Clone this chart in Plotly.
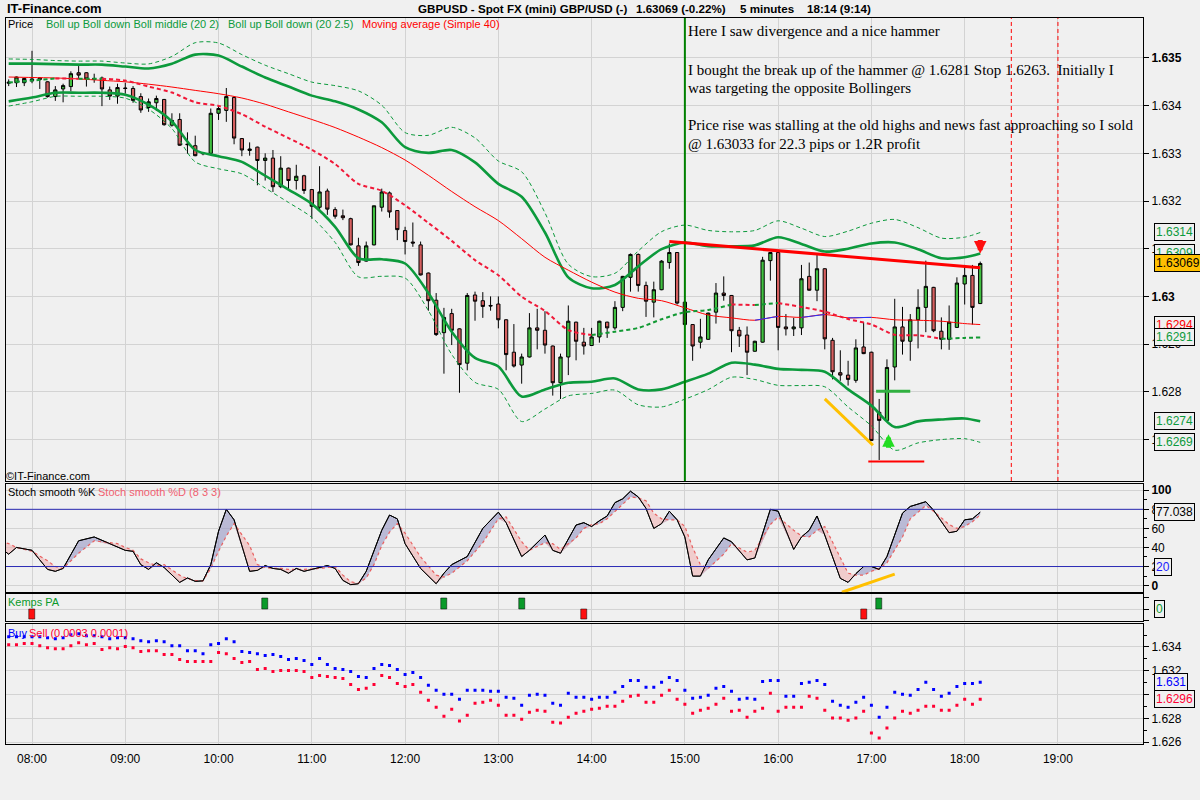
import pandas as pd
import plotly.graph_objects as go

W, H = 1200, 800
DAY = "2010-06-07"

# 5 minute GBPUSD bars, 07:45 .. 18:10
bar_open = [1.63447, 1.63448, 1.63448, 1.63452, 1.63458, 1.63450, 1.63419, 1.63435, 1.63440, 1.63469,
            1.63469, 1.63457, 1.63458, 1.63433, 1.63420, 1.63437, 1.63436, 1.63419, 1.63396, 1.63406,
            1.63413, 1.63359, 1.63371, 1.63318, 1.63316, 1.63299, 1.63300, 1.63384, 1.63390, 1.63417,
            1.63331, 1.63306, 1.63313, 1.63285, 1.63290, 1.63230, 1.63269, 1.63243, 1.63253, 1.63224,
            1.63187, 1.63221, 1.63182, 1.63169, 1.63163, 1.63106, 1.63074, 1.63108, 1.63187, 1.63217,
            1.63180, 1.63138, 1.63114, 1.63108, 1.63049, 1.62992, 1.62924, 1.62964, 1.62932, 1.62860,
            1.63003, 1.62991, 1.62981, 1.62984, 1.62951, 1.62883, 1.62856, 1.62873, 1.62934, 1.62929,
            1.62896, 1.62819, 1.62873, 1.62946, 1.62904, 1.62897, 1.62915, 1.62946, 1.62934, 1.62977,
            1.63040, 1.63088, 1.63023, 1.62988, 1.63014, 1.63071, 1.63092, 1.62988, 1.62941, 1.62904,
            1.62910, 1.62967, 1.63007, 1.63002, 1.62929, 1.62919, 1.62885, 1.62904, 1.63075, 1.63092,
            1.62936, 1.62932, 1.62934, 1.63042, 1.63013, 1.63058, 1.62908, 1.62840, 1.62835, 1.62824,
            1.62894, 1.62883, 1.62757, 1.62740, 1.62852, 1.62936, 1.62906, 1.62951, 1.62977, 1.63019,
            1.62927, 1.62910, 1.62935, 1.63026, 1.63044, 1.62985]
bar_high = [1.63455, 1.63461, 1.63458, 1.63515, 1.63460, 1.63451, 1.63441, 1.63446, 1.63472, 1.63483,
            1.63470, 1.63467, 1.63461, 1.63440, 1.63446, 1.63448, 1.63441, 1.63426, 1.63415, 1.63421,
            1.63414, 1.63384, 1.63384, 1.63344, 1.63337, 1.63302, 1.63394, 1.63401, 1.63437, 1.63420,
            1.63332, 1.63323, 1.63314, 1.63300, 1.63307, 1.63294, 1.63270, 1.63276, 1.63255, 1.63225,
            1.63273, 1.63226, 1.63187, 1.63182, 1.63165, 1.63123, 1.63115, 1.63190, 1.63226, 1.63220,
            1.63181, 1.63146, 1.63155, 1.63115, 1.63050, 1.63007, 1.62976, 1.62974, 1.62933, 1.63007,
            1.63010, 1.63009, 1.63000, 1.63000, 1.62952, 1.62942, 1.62880, 1.62965, 1.62974, 1.62969,
            1.62897, 1.62880, 1.62981, 1.62947, 1.62934, 1.62934, 1.62949, 1.62947, 1.62990, 1.63043,
            1.63090, 1.63090, 1.63031, 1.63031, 1.63076, 1.63111, 1.63093, 1.62990, 1.62942, 1.62953,
            1.62966, 1.63028, 1.63042, 1.63003, 1.62936, 1.62937, 1.62907, 1.63083, 1.63093, 1.63093,
            1.62963, 1.62955, 1.63066, 1.63071, 1.63088, 1.63059, 1.62913, 1.62887, 1.62865, 1.62910,
            1.62946, 1.62884, 1.62785, 1.62868, 1.62995, 1.62978, 1.62963, 1.63015, 1.63075, 1.63020,
            1.62956, 1.62981, 1.63040, 1.63066, 1.63066, 1.63073]
bar_low = [1.63441, 1.63439, 1.63441, 1.63447, 1.63435, 1.63417, 1.63410, 1.63407, 1.63430, 1.63456,
           1.63440, 1.63448, 1.63399, 1.63412, 1.63404, 1.63425, 1.63406, 1.63385, 1.63387, 1.63389,
           1.63358, 1.63356, 1.63316, 1.63299, 1.63294, 1.63296, 1.63299, 1.63370, 1.63366, 1.63319,
           1.63294, 1.63295, 1.63233, 1.63243, 1.63219, 1.63227, 1.63222, 1.63224, 1.63215, 1.63163,
           1.63180, 1.63171, 1.63163, 1.63160, 1.63107, 1.63064, 1.63073, 1.63107, 1.63178, 1.63165,
           1.63118, 1.63088, 1.63104, 1.63044, 1.62970, 1.62917, 1.62838, 1.62898, 1.62798, 1.62845,
           1.62949, 1.62955, 1.62970, 1.62933, 1.62845, 1.62851, 1.62817, 1.62872, 1.62889, 1.62880,
           1.62792, 1.62785, 1.62835, 1.62866, 1.62878, 1.62896, 1.62903, 1.62913, 1.62930, 1.62969,
           1.63010, 1.63010, 1.62957, 1.62956, 1.63013, 1.63058, 1.62983, 1.62939, 1.62865, 1.62891,
           1.62909, 1.62943, 1.62991, 1.62883, 1.62894, 1.62835, 1.62884, 1.62903, 1.63033, 1.62887,
           1.62918, 1.62917, 1.62919, 1.63012, 1.62990, 1.62889, 1.62826, 1.62823, 1.62813, 1.62819,
           1.62879, 1.62697, 1.62657, 1.62739, 1.62824, 1.62878, 1.62865, 1.62891, 1.62925, 1.62925,
           1.62889, 1.62888, 1.62934, 1.62983, 1.62941, 1.62984]
bar_close = [1.63449, 1.63460, 1.63457, 1.63456, 1.63455, 1.63419, 1.63433, 1.63442, 1.63467, 1.63464,
             1.63456, 1.63455, 1.63435, 1.63420, 1.63438, 1.63436, 1.63411, 1.63391, 1.63408, 1.63415,
             1.63360, 1.63369, 1.63317, 1.63319, 1.63295, 1.63300, 1.63384, 1.63394, 1.63419, 1.63332,
             1.63307, 1.63309, 1.63285, 1.63290, 1.63230, 1.63269, 1.63243, 1.63252, 1.63222, 1.63189,
             1.63219, 1.63183, 1.63168, 1.63165, 1.63108, 1.63071, 1.63106, 1.63190, 1.63219, 1.63177,
             1.63140, 1.63115, 1.63112, 1.63045, 1.62991, 1.62920, 1.62956, 1.62929, 1.62857, 1.63002,
             1.62990, 1.62979, 1.62980, 1.62951, 1.62878, 1.62854, 1.62873, 1.62934, 1.62929, 1.62898,
             1.62819, 1.62873, 1.62948, 1.62906, 1.62896, 1.62915, 1.62948, 1.62934, 1.62977, 1.63042,
             1.63088, 1.63023, 1.62990, 1.63014, 1.63074, 1.63092, 1.62986, 1.62941, 1.62896, 1.62915,
             1.62965, 1.63007, 1.63002, 1.62928, 1.62917, 1.62883, 1.62906, 1.63076, 1.63092, 1.62935,
             1.62932, 1.62936, 1.63037, 1.63013, 1.63058, 1.62911, 1.62842, 1.62835, 1.62826, 1.62892,
             1.62880, 1.62698, 1.62740, 1.62851, 1.62936, 1.62906, 1.62951, 1.62977, 1.63021, 1.62928,
             1.62910, 1.62946, 1.63028, 1.63044, 1.62977, 1.63069]
bar_times = pd.date_range(DAY + " 07:45", periods=len(bar_open), freq="5min")

# Bollinger (20 2) bands and SMA 40, read every 15 minutes plus the last bar
boll_upper = [1.63488, 1.63488, 1.63487, 1.63486, 1.63486, 1.63482, 1.63478, 1.63488, 1.63507, 1.63505,
              1.63482, 1.63459, 1.63440, 1.63421, 1.63409, 1.63392, 1.63365, 1.63313, 1.63301, 1.63307,
              1.63281, 1.63236, 1.63209, 1.63134, 1.63040, 1.63017, 1.63024, 1.63063, 1.63099, 1.63113,
              1.63105, 1.63105, 1.63107, 1.63124, 1.63110, 1.63094, 1.63100, 1.63111, 1.63113, 1.63099,
              1.63080, 1.63082, 1.63090]
boll_lower = [1.63409, 1.63417, 1.63427, 1.63427, 1.63427, 1.63423, 1.63402, 1.63367, 1.63307, 1.63294,
              1.63282, 1.63253, 1.63224, 1.63194, 1.63146, 1.63080, 1.63078, 1.63069, 1.63007, 1.62926,
              1.62871, 1.62853, 1.62790, 1.62805, 1.62819, 1.62821, 1.62828, 1.62805, 1.62805, 1.62821,
              1.62838, 1.62861, 1.62857, 1.62848, 1.62846, 1.62842, 1.62805, 1.62771, 1.62726, 1.62738,
              1.62742, 1.62744, 1.62738]
sma40 = [1.63460, 1.63459, 1.63458, 1.63456, 1.63453, 1.63450, 1.63445, 1.63439, 1.63432, 1.63425,
         1.63416, 1.63403, 1.63387, 1.63371, 1.63354, 1.63334, 1.63312, 1.63286, 1.63254, 1.63220,
         1.63188, 1.63159, 1.63121, 1.63082, 1.63055, 1.63030, 1.63009, 1.62996, 1.62991, 1.62976,
         1.62961, 1.62955, 1.62950, 1.62958, 1.62956, 1.62962, 1.62955, 1.62956, 1.62951, 1.62950,
         1.62948, 1.62943, 1.62941]
ind_times = list(bar_times[::3]) + [bar_times[-1]]

# Stoch smooth %K / %D (8 3 3), bar index from 07:45
stoch_bar = [-1, 0, 1, 3, 5, 6, 7, 9, 11, 14, 15, 16, 17, 18, 19, 20, 22, 23, 24, 25,
             26, 27, 28, 29, 31, 32, 33, 34, 35, 36, 37, 38, 40, 41, 42, 43, 44, 45, 46, 47,
             48, 49, 50, 51, 53, 55, 56, 57, 59, 61, 63, 64, 66, 67, 69, 70, 71, 73, 74, 75,
             76, 77, 78, 79, 80, 81, 82, 83, 84, 85, 86, 87, 88, 89, 90, 92, 93, 95, 96, 98,
             99, 101, 102, 103, 104, 105, 107, 108, 109, 110, 111, 112, 113, 115, 116, 118, 119, 121, 122, 123,
             124, 125]
stoch_k = [39, 33, 40, 37, 17, 15, 18, 47, 51, 41, 37, 36, 22, 17, 24, 19, 3.4, 8, 4.5, 5,
           22, 57, 80, 69, 15, 16, 21, 18, 17, 13, 18, 15, 19, 21, 18, 5.5, 1, 2, 15, 36,
           58, 74, 70, 44, 18, 2, 13, 22, 30.5, 60, 77, 66, 30.5, 37, 53, 37, 34, 63.5, 66, 62,
           68, 73, 87, 91, 99, 93, 81, 60, 65, 78, 69, 51, 10, 10, 27, 50, 46, 27, 29, 80,
           78, 38, 51, 58, 73, 53, 7.6, 3.4, 12.5, 20, 20, 17, 30.5, 76, 83, 88, 79, 55.5, 57, 69,
           70, 77]
stoch_d = [46, 44, 40, 36, 26, 20, 18, 34, 47, 44, 40, 37, 28, 24, 21, 22, 11, 7, 5.5, 5,
           18, 36, 52, 65, 42, 22, 19, 18, 18, 17, 17, 17, 18, 19, 20, 11, 4, 2.5, 8, 22,
           42, 56, 65, 55, 30, 11, 9, 13, 26, 45, 70, 72, 46, 37, 45, 44, 38, 50, 60, 64,
           65, 70, 78, 86, 93, 92, 89, 76, 70, 69, 69, 62, 40, 22, 18, 33, 44, 35, 37, 64,
           72, 58, 52, 51, 58, 62, 30, 13, 11, 11, 15, 18, 24, 51, 70, 84, 78, 64, 60, 62,
           67, 74]

# Kemps PA signals
kemps_up = ["10:30", "12:25", "13:15", "17:05"]
kemps_down = ["08:00", "13:55", "16:55"]

# Buy Sell (0.0003 0.0001), one value per bar
buy_level = [1.63486, 1.63486, 1.63486, 1.63486, 1.63486, 1.63478, 1.63469, 1.63478, 1.63503, 1.63511,
             1.63494, 1.63494, 1.63486, 1.63469, 1.63478, 1.63478, 1.63469, 1.63453, 1.63444, 1.63453,
             1.63444, 1.63411, 1.63411, 1.63369, 1.63369, 1.63344, 1.63419, 1.63428, 1.63469, 1.63444,
             1.63361, 1.63353, 1.63344, 1.63328, 1.63336, 1.63319, 1.63294, 1.63303, 1.63286, 1.63253,
             1.63303, 1.63253, 1.63219, 1.63211, 1.63194, 1.63153, 1.63144, 1.63219, 1.63253, 1.63244,
             1.63211, 1.63169, 1.63186, 1.63144, 1.63078, 1.63036, 1.63003, 1.63003, 1.62961, 1.63036,
             1.63036, 1.63036, 1.63028, 1.63028, 1.62978, 1.62969, 1.62911, 1.62994, 1.63003, 1.62994,
             1.62928, 1.62911, 1.63011, 1.62978, 1.62978, 1.62961, 1.62978, 1.62978, 1.63019, 1.63069,
             1.63119, 1.63119, 1.63061, 1.63061, 1.63103, 1.63144, 1.63119, 1.63036, 1.62969, 1.62978,
             1.62994, 1.63053, 1.63069, 1.63028, 1.62961, 1.62969, 1.62961, 1.63111, 1.63119, 1.63119,
             1.62986, 1.62986, 1.63094, 1.63103, 1.63119, 1.63086, 1.62944, 1.62911, 1.62894, 1.62936,
             1.62978, 1.62911, 1.62811, 1.62894, 1.63019, 1.63003, 1.62994, 1.63044, 1.63103, 1.63044,
             1.62986, 1.63011, 1.63069, 1.63094, 1.63094, 1.63103]
sell_level = [1.63419, 1.63419, 1.63428, 1.63428, 1.63411, 1.63394, 1.63386, 1.63386, 1.63411, 1.63436,
              1.63419, 1.63428, 1.63378, 1.63394, 1.63386, 1.63403, 1.63394, 1.63361, 1.63369, 1.63369,
              1.63336, 1.63336, 1.63294, 1.63278, 1.63278, 1.63278, 1.63278, 1.63353, 1.63344, 1.63303,
              1.63269, 1.63278, 1.63211, 1.63219, 1.63194, 1.63203, 1.63203, 1.63203, 1.63194, 1.63144,
              1.63161, 1.63153, 1.63144, 1.63136, 1.63086, 1.63044, 1.63053, 1.63086, 1.63161, 1.63144,
              1.63094, 1.63069, 1.63086, 1.63019, 1.62953, 1.62894, 1.62819, 1.62878, 1.62778, 1.62828,
              1.62928, 1.62936, 1.62953, 1.62911, 1.62828, 1.62828, 1.62794, 1.62853, 1.62869, 1.62861,
              1.62769, 1.62761, 1.62811, 1.62844, 1.62861, 1.62878, 1.62886, 1.62903, 1.62903, 1.62944,
              1.62986, 1.62994, 1.62936, 1.62936, 1.62994, 1.63036, 1.62961, 1.62919, 1.62844, 1.62869,
              1.62886, 1.62919, 1.62969, 1.62861, 1.62869, 1.62811, 1.62861, 1.62886, 1.63011, 1.62861,
              1.62894, 1.62894, 1.62894, 1.62986, 1.62969, 1.62869, 1.62803, 1.62803, 1.62786, 1.62803,
              1.62861, 1.62678, 1.62636, 1.62719, 1.62803, 1.62861, 1.62844, 1.62869, 1.62903, 1.62903,
              1.62869, 1.62869, 1.62911, 1.62961, 1.62919, 1.62961]

price_ticks = [1.627, 1.628, 1.629, 1.63, 1.631, 1.632, 1.633, 1.634, 1.635]
price_tick_text = ["1.627", "1.628", "1.629", "<b>1.63</b>", "1.631", "1.632", "1.633", "1.634", "<b>1.635</b>"]

notes = ["Here I saw divergence and a nice hammer",
         "I bought the break up of the hammer @ 1.6281 Stop 1.6263.\u00a0 Initially I",
         "was targeting the opposite Bollingers",
         "Price rise was stalling at the old highs and news fast approaching so I sold",
         "@ 1.63033 for 22.3 pips or 1.2R profit"]
note_rows = [31, 70, 89, 126, 145]

BG = "#f0f0f0"
GRID = "#d3d3d3"
BOLL = "#0c9a3c"
UP = "#40c040"
DOWN = "#d66060"
SANS = "Liberation Sans, Arial, sans-serif"
SERIF = "Liberation Serif, Times New Roman, serif"


def px(x):
    return x / W


def py(y):
    return 1 - y / H


def t(hm):
    return pd.Timestamp(f"{DAY} {hm}")


def runs(xs, ys, rise, fall):
    # split a line into pieces coloured by direction
    out = []
    colour = lambda i: rise if ys[i + 1] >= ys[i] else fall
    start, cur = 0, colour(0)
    for i in range(1, len(ys) - 1):
        c = colour(i)
        if c != cur:
            out.append((xs[start:i + 1], ys[start:i + 1], cur))
            start, cur = i, c
    out.append((xs[start:], ys[start:], cur))
    return out


fig = go.Figure()

# ---- price panel
fig.add_trace(go.Candlestick(
    x=bar_times, open=bar_open, high=bar_high, low=bar_low, close=bar_close,
    increasing=dict(fillcolor=UP, line=dict(color="black", width=1)),
    decreasing=dict(fillcolor=DOWN, line=dict(color="black", width=1)),
    whiskerwidth=0, hoverinfo="skip", showlegend=False, xaxis="x", yaxis="y"))

mid = [(u + l) / 2 for u, l in zip(boll_upper, boll_lower)]
up25 = [m + 1.25 * (u - m) for m, u in zip(mid, boll_upper)]
lo25 = [m - 1.25 * (u - m) for m, u in zip(mid, boll_upper)]

for ys in (up25, lo25):
    fig.add_trace(go.Scatter(x=ind_times, y=ys, mode="lines", showlegend=False, hoverinfo="skip",
                             line=dict(color=BOLL, width=1, dash="4px,3px", shape="spline", smoothing=0.8)))
for ys in (boll_upper, boll_lower):
    fig.add_trace(go.Scatter(x=ind_times, y=ys, mode="lines", showlegend=False, hoverinfo="skip",
                             line=dict(color=BOLL, width=2.6, shape="spline", smoothing=0.8)))

fig.add_trace(go.Scatter(x=ind_times, y=sma40, mode="lines", showlegend=False, hoverinfo="skip",
                         line=dict(color="#ff0000", width=1, shape="spline", smoothing=0.8)))
for xs, ys, c in runs(ind_times, sma40, "#2233ff", None):
    if c:
        fig.add_trace(go.Scatter(x=xs, y=ys, mode="lines", showlegend=False, hoverinfo="skip",
                                 line=dict(color=c, width=1)))

for xs, ys, c in runs(ind_times, mid, "#119933", "#f01838"):
    fig.add_trace(go.Scatter(x=xs, y=ys, mode="lines", showlegend=False, hoverinfo="skip",
                             line=dict(color=c, width=2, dash="4px,3px", shape="spline", smoothing=0.8)))

# ---- stochastic panel
stoch_times = [t("07:45") + pd.Timedelta(minutes=5 * i) for i in stoch_bar]
stoch_lo = [min(k, d) for k, d in zip(stoch_k, stoch_d)]
fig.add_trace(go.Scatter(x=stoch_times, y=stoch_lo, mode="lines", line=dict(width=0),
                         showlegend=False, hoverinfo="skip", xaxis="x2", yaxis="y2"))
fig.add_trace(go.Scatter(x=stoch_times, y=stoch_k, mode="lines", fill="tonexty",
                         fillcolor="rgba(150,150,195,0.6)", line=dict(color="black", width=1),
                         showlegend=False, hoverinfo="skip", xaxis="x2", yaxis="y2"))
fig.add_trace(go.Scatter(x=stoch_times, y=stoch_lo, mode="lines", line=dict(width=0),
                         showlegend=False, hoverinfo="skip", xaxis="x2", yaxis="y2"))
fig.add_trace(go.Scatter(x=stoch_times, y=stoch_d, mode="lines", fill="tonexty",
                         fillcolor="rgba(240,175,175,0.55)", line=dict(color="#e86060", width=1.2, dash="dot"),
                         showlegend=False, hoverinfo="skip", xaxis="x2", yaxis="y2"))
fig.add_trace(go.Scatter(x=stoch_times, y=stoch_k, mode="lines", line=dict(color="black", width=1),
                         showlegend=False, hoverinfo="skip", xaxis="x2", yaxis="y2"))

# ---- Kemps PA panel
bar_w = 4 * 60 * 1000
fig.add_trace(go.Bar(x=[t(h) for h in kemps_up], y=[1] * len(kemps_up), width=bar_w,
                     marker=dict(color="#0a9a2a", line=dict(color="black", width=0.5)),
                     showlegend=False, hoverinfo="skip", xaxis="x3", yaxis="y3"))
fig.add_trace(go.Bar(x=[t(h) for h in kemps_down], y=[-0.8] * len(kemps_down), width=bar_w,
                     marker=dict(color="#ff1010", line=dict(color="black", width=0.5)),
                     showlegend=False, hoverinfo="skip", xaxis="x3", yaxis="y3"))

# ---- Buy / Sell panel
fig.add_trace(go.Scatter(x=bar_times, y=buy_level, mode="markers",
                         marker=dict(symbol="square", size=3, color="#0000ff"),
                         showlegend=False, hoverinfo="skip", xaxis="x4", yaxis="y4"))
fig.add_trace(go.Scatter(x=bar_times, y=sell_level, mode="markers",
                         marker=dict(symbol="square", size=3, color="#ff0033"),
                         showlegend=False, hoverinfo="skip", xaxis="x4", yaxis="y4"))

# ---- axes
x_range = [f"{DAY} 07:43:16", f"{DAY} 19:54:43"]
base_x = dict(type="date", range=x_range, domain=[px(6), px(1143)], showgrid=True, gridcolor=GRID,
              dtick=3600000, tick0=f"{DAY} 08:00", showline=True, linecolor="black", linewidth=1,
              mirror=True, zeroline=False, showticklabels=False, ticks="")
base_y = dict(side="right", showgrid=True, gridcolor=GRID, ticks="outside", ticklen=5, tickcolor="black",
              showline=True, linecolor="black", linewidth=1, mirror=True, zeroline=False,
              tickfont=dict(family=SANS, size=12, color="black"))

fig.update_layout(
    width=W, height=800, margin=dict(l=0, r=0, t=0, b=0),
    paper_bgcolor=BG, plot_bgcolor=BG, boxgap=0.4, bargap=0, showlegend=False,
    xaxis=dict(base_x, anchor="y", rangeslider=dict(visible=False)),
    xaxis2=dict(base_x, anchor="y2"),
    xaxis3=dict(base_x, anchor="y3"),
    xaxis4=dict(base_x, anchor="y4", showticklabels=True, tickformat="%H:%M",
                ticks="outside", ticklen=3, tickcolor=BG,
                tickfont=dict(family=SANS, size=12, color="black")),
    yaxis=dict(base_y, anchor="x", domain=[py(484), py(18)], range=[1.62613, 1.63584],
               tickvals=price_ticks, ticktext=price_tick_text),
    yaxis2=dict(base_y, anchor="x2", domain=[py(596), py(487)], range=[-7, 106.6],
                tickvals=[0, 20, 40, 60, 80, 100], ticktext=["<b>0</b>", "20", "40", "60", "80", "<b>100</b>"],
                minor=dict(dtick=10, ticks="outside", ticklen=3, tickcolor="black", showgrid=False)),
    yaxis3=dict(base_y, anchor="x3", domain=[py(625), py(598)], range=[-1.0, 1.31], showgrid=False,
                tickvals=[-0.92, 0, 0.99], ticktext=["", "", ""]),
    yaxis4=dict(base_y, anchor="x4", domain=[py(749), py(628)], range=[1.62583, 1.63592],
                tickvals=[1.626, 1.628, 1.63, 1.632, 1.634], ticktext=["1.626", "1.628", "", "1.632", "1.634"],
                minor=dict(dtick=0.001, ticks="outside", ticklen=3, tickcolor="black", showgrid=False)),
)

# ---- drawn lines
shapes = [
    dict(type="line", xref="x", yref="y domain", x0=t("15:00"), x1=t("15:00"), y0=0, y1=1,
         line=dict(color="#008000", width=2)),
    dict(type="line", xref="x", yref="y domain", x0=t("18:30"), x1=t("18:30"), y0=0, y1=1,
         line=dict(color="red", width=1, dash="4px,3px")),
    dict(type="line", xref="x", yref="y domain", x0=t("19:00"), x1=t("19:00"), y0=0, y1=1,
         line=dict(color="red", width=1, dash="4px,3px")),
    dict(type="line", xref="x", yref="y", x0=t("14:50"), y0=1.63115, x1=t("18:10"), y1=1.63060,
         line=dict(color="#ff0000", width=3)),
    dict(type="line", xref="x", yref="y", x0=t("16:30"), y0=1.62785, x1=t("17:01"), y1=1.62688,
         line=dict(color="#ffc000", width=3)),
    dict(type="line", xref="x", yref="y", x0=t("17:03"), y0=1.62801, x1=t("17:25"), y1=1.62801,
         line=dict(color="#30b040", width=3)),
    dict(type="line", xref="x", yref="y", x0=t("16:58"), y0=1.62654, x1=t("17:34"), y1=1.62654,
         line=dict(color="#ff0000", width=2)),
    dict(type="line", xref="x2", yref="y2", x0=t("16:41"), y0=-7, x1=t("17:15"), y1=12,
         line=dict(color="#ffc000", width=3)),
    dict(type="line", xref="paper", yref="y2", x0=px(6), x1=px(1143), y0=20, y1=20,
         line=dict(color="#2b2bb5", width=1)),
    dict(type="line", xref="paper", yref="y2", x0=px(6), x1=px(1143), y0=80, y1=80,
         line=dict(color="#2b2bb5", width=1)),
    dict(type="line", xref="paper", yref="y3", x0=px(6), x1=px(1143), y0=0, y1=0, layer="below",
         line=dict(color=GRID, width=1)),
]

ann = []


def label(x, y, text, color="black", size=11, family=SANS):
    ann.append(dict(xref="paper", yref="paper", x=px(x), y=py(y), text=text, showarrow=False,
                    xanchor="left", yanchor="middle", font=dict(family=family, size=size, color=color)))


def box(yref, y, text, color, bg=BG):
    ann.append(dict(xref="paper", x=px(1154), xanchor="left", yref=yref, y=y, yanchor="middle",
                    text=text, showarrow=False, font=dict(family=SANS, size=12, color=color),
                    bgcolor=bg, bordercolor="black", borderwidth=1, borderpad=1))


label(5, 9, "<b>IT-Finance.com</b>", size=13)
label(416, 9, "<b>GBPUSD - Spot FX (mini) GBP/USD (-)</b>", size=11.6)
label(634, 9, "<b>1.63069 (-0.22%)</b>", size=11.6)
label(738, 9, "<b>5 minutes</b>", size=11.6)
label(805, 9, "<b>18:14 (9:14)</b>", size=11.6)

label(6, 24, "Price")
label(44, 24, "Boll up Boll down Boll middle (20 2)", color="#0c9a3c")
label(226, 24, "Boll up Boll down (20 2.5)", color="#0c9a3c")
label(360, 24, "Moving average (Simple 40)", color="#ff0000")
label(4, 479, "©IT-Finance.com")
label(6, 495, "Stoch smooth %K")
label(96, 495, "Stoch smooth %D (8 3 3)", color="#f06070")
label(6, 606, "Kemps PA", color="#0a9a2a")
label(6, 637, "Buy", color="#0000ff")
label(27, 637, "Sell (0.0003 0.0001)", color="#ff0033")

for text, row in zip(notes, note_rows):
    label(686, row, text, size=15, family=SERIF)

box("y", up25[-1], "1.6314", "#0c9a3c")
box("y", boll_upper[-1], "1.6309", "#0c9a3c")
box("y", bar_close[-1], "1.63069", "black", bg="#ffc000")
box("y", sma40[-1], "1.6294", "#ff0000")
box("y", mid[-1], "1.6291", "#0c9a3c")
box("y", boll_lower[-1], "1.6274", "#0c9a3c")
box("y", lo25[-1], "1.6269", "#0c9a3c")
box("y2", stoch_k[-1], "77.038", "black")
box("y2", 20, "20", "#2020ff")
box("y3", 0, "0", "#0a9a2a")
box("y4", buy_level[-1], "1.631", "#0000ff")
box("y4", sell_level[-1], "1.6296", "#ff0033")

# entry / exit arrows
ann.append(dict(xref="x", yref="y", x=t("17:11"), y=1.62711, ax=0, ay=15, showarrow=True,
                arrowhead=2, arrowsize=0.5, arrowwidth=5, arrowcolor="#22dd22", text=""))
ann.append(dict(xref="x", yref="y", x=t("18:10"), y=1.63090, ax=0, ay=-15, showarrow=True,
                arrowhead=2, arrowsize=0.5, arrowwidth=5, arrowcolor="#ff1010", text=""))

fig.update_layout(shapes=shapes, annotations=ann)
fig.write_html("out.html", config=dict(displayModeBar=False),
               post_script="document.body.style.margin='0px';document.body.style.overflow='hidden';")
